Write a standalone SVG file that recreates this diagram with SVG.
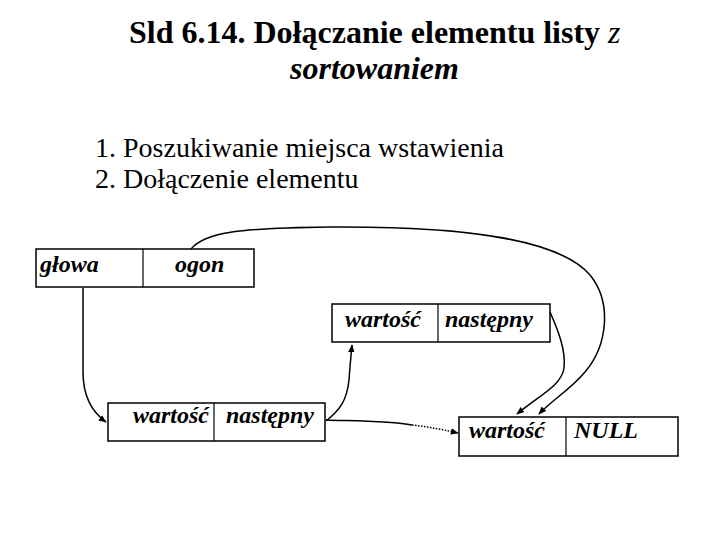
<svg xmlns="http://www.w3.org/2000/svg" width="720" height="540" viewBox="0 0 720 540">
<style>
.t{font-size:32px;font-weight:bold}
.l{font-size:28px}
.c{font-size:24px;font-weight:bold;font-style:italic}
.box{fill:#fff;stroke:#000;stroke-width:1.5}
.div{stroke:#000;stroke-width:1.2}
.con{fill:none;stroke:#000;stroke-width:1.5}
</style>
<defs>
<marker id="ah" viewBox="0 0 10 10" refX="9" refY="5" markerWidth="8" markerHeight="8" markerUnits="userSpaceOnUse" orient="auto">
<path d="M0,1 L10,5 L0,9 Z" fill="#000"/>
</marker>
</defs>
<rect width="720" height="540" fill="#fff"/>
<g id="title">
<text font-family="Liberation Serif" class="t" x="129" y="43">Sld 6.14. Dołączanie elementu listy <tspan font-weight="normal" font-style="italic">z</tspan></text>
<text font-family="Liberation Serif" class="t" x="290" y="79" font-style="italic">sortowaniem</text>
</g>
<g id="steps">
<text font-family="Liberation Serif" class="l" x="95" y="157">1. Poszukiwanie miejsca wstawienia</text>
<text font-family="Liberation Serif" class="l" x="95" y="188">2. Dołączenie elementu</text>
</g>
<g id="head">
<rect class="box" x="36" y="249" width="218" height="38"/>
<line class="div" x1="143" y1="249" x2="143" y2="287"/>
<text font-family="Liberation Serif" class="c" x="40" y="272">głowa</text>
<text font-family="Liberation Serif" class="c" x="175" y="272">ogon</text>
</g>
<g id="node-new">
<rect class="box" x="332" y="304" width="218" height="38"/>
<line class="div" x1="438" y1="304" x2="438" y2="342"/>
<text font-family="Liberation Serif" class="c" x="345" y="327">wartość</text>
<text font-family="Liberation Serif" class="c" x="445" y="327">następny</text>
</g>
<g id="node-first">
<rect class="box" x="108" y="403" width="217" height="38"/>
<line class="div" x1="214" y1="403" x2="214" y2="441"/>
<text font-family="Liberation Serif" class="c" x="133" y="423">wartość</text>
<text font-family="Liberation Serif" class="c" x="226" y="423">następny</text>
</g>
<g id="node-last">
<rect class="box" x="459" y="417" width="219" height="39"/>
<line class="div" x1="566" y1="417" x2="566" y2="456"/>
<text font-family="Liberation Serif" class="c" x="469" y="438">wartość</text>
<text font-family="Liberation Serif" class="c" x="574" y="438">NULL</text>
</g>
<g id="connectors">
<path class="con" d="M83,288 L83,372 C83,396 92,412 106,422" marker-end="url(#ah)"/>
<path class="con" d="M191,249 C205,232 240,228 330,227 C470,226 560,240 590,275 C612,302 608,345 585,372 C570,390 552,400 539,414" marker-end="url(#ah)"/>
<path class="con" d="M550,312 C558,330 566,350 564,368 C562,385 540,395 517,414" marker-end="url(#ah)"/>
<path class="con" d="M326,421 C340,410 347,400 349,380 C350,365 351,356 352,345" marker-end="url(#ah)"/>
<path class="con" d="M326,420 C350,421 390,421 412,425"/>
<path class="con" d="M412,425 C430,427 445,430 458,433" stroke-width="1" stroke-dasharray="1.5,1.5" marker-end="url(#ah)"/>
</g>
</svg>
